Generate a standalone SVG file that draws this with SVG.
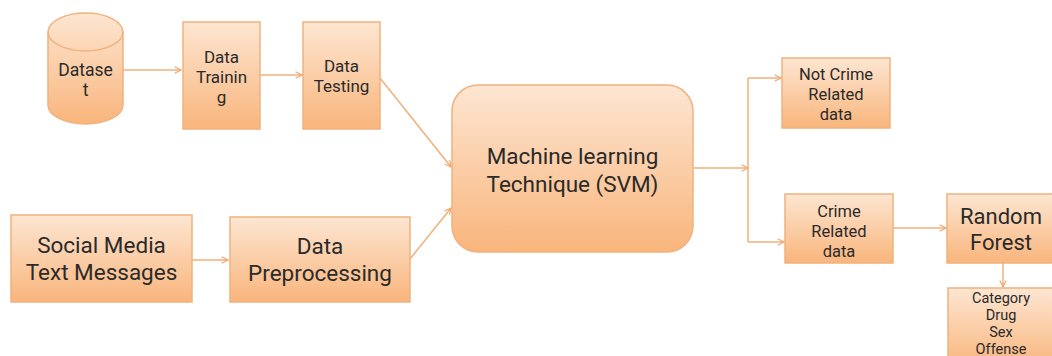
<svg xmlns="http://www.w3.org/2000/svg" width="1052" height="356" viewBox="0 0 1052 356">
<defs>
<linearGradient id="g" x1="0" y1="0" x2="0" y2="1">
<stop offset="0" stop-color="#fde6d2"/>
<stop offset="1" stop-color="#f9b57c"/>
</linearGradient>
<marker id="a" viewBox="0 0 10 10" refX="9" refY="5" markerWidth="8" markerHeight="8" orient="auto" markerUnits="userSpaceOnUse">
<path d="M1,1 L9,5 L1,9" fill="none" stroke="#efa871" stroke-width="1.5"/>
</marker>
</defs>
<style>
.n{fill:url(#g);stroke:#f0b27e;stroke-width:1.5}
.t{font-family:Roboto,"Liberation Sans",sans-serif;fill:#2a2a2a;text-anchor:middle}
.c{fill:none;stroke:#f0b07c;stroke-width:1.5}
</style>
<rect width="1052" height="356" fill="#fff"/>
<g id="connectors">
<line class="c" x1="123" y1="70" x2="181" y2="70" marker-end="url(#a)"/>
<line class="c" x1="260" y1="75" x2="302" y2="75" marker-end="url(#a)"/>
<line class="c" x1="380" y1="78" x2="451" y2="167" marker-end="url(#a)"/>
<line class="c" x1="192" y1="260" x2="228" y2="260" marker-end="url(#a)"/>
<line class="c" x1="410" y1="259" x2="451" y2="208" marker-end="url(#a)"/>
<line class="c" x1="693" y1="168" x2="748" y2="168" marker-end="url(#a)"/>
<line class="c" x1="748" y1="78" x2="748" y2="242"/>
<line class="c" x1="748" y1="78" x2="781" y2="78" marker-end="url(#a)"/>
<line class="c" x1="748" y1="242" x2="784" y2="242" marker-end="url(#a)"/>
<line class="c" x1="893" y1="228" x2="946" y2="228" marker-end="url(#a)"/>
<line class="c" x1="1003" y1="263" x2="1003" y2="287" marker-end="url(#a)"/>
</g>
<g id="dataset">
<path class="n" d="M48,32 A37.5,19 0 0 1 123,32 L123,105 A37.5,19 0 0 1 48,105 Z"/>
<path d="M48,32 A37.5,19 0 0 0 123,32" fill="none" stroke="#f0b27e" stroke-width="1.5"/>
<text class="t" x="85.5" y="76" font-size="17.5">Datase</text>
<text class="t" x="85.5" y="96" font-size="17.5">t</text>
</g>
<g id="training">
<rect class="n" x="183" y="22" width="77" height="107"/>
<text class="t" x="221.5" y="63" font-size="17">Data</text>
<text class="t" x="221.5" y="83" font-size="17">Trainin</text>
<text class="t" x="221.5" y="103" font-size="17">g</text>
</g>
<g id="testing">
<rect class="n" x="303" y="22" width="77" height="107"/>
<text class="t" x="341.5" y="72" font-size="17">Data</text>
<text class="t" x="341.5" y="92" font-size="17">Testing</text>
</g>
<g id="social">
<rect class="n" x="11" y="215" width="181" height="87"/>
<text class="t" x="101.5" y="253" font-size="22.5">Social Media</text>
<text class="t" x="101.5" y="280" font-size="22.5">Text Messages</text>
</g>
<g id="preprocessing">
<rect class="n" x="230" y="217" width="180" height="85"/>
<text class="t" x="320" y="254" font-size="22.5">Data</text>
<text class="t" x="320" y="281" font-size="22.5">Preprocessing</text>
</g>
<g id="svm">
<rect class="n" x="452" y="85" width="241" height="167" rx="26"/>
<text class="t" x="572.5" y="164" font-size="22.5">Machine learning</text>
<text class="t" x="572.5" y="192" font-size="22.5">Technique (SVM)</text>
</g>
<g id="notcrime">
<rect class="n" x="782" y="58" width="108" height="70"/>
<text class="t" x="836" y="80" font-size="16.5">Not Crime</text>
<text class="t" x="836" y="100" font-size="16.5">Related</text>
<text class="t" x="836" y="120" font-size="16.5">data</text>
</g>
<g id="crime">
<rect class="n" x="785" y="194" width="108" height="69"/>
<text class="t" x="839" y="217" font-size="16.5">Crime</text>
<text class="t" x="839" y="237" font-size="16.5">Related</text>
<text class="t" x="839" y="257" font-size="16.5">data</text>
</g>
<g id="randomforest">
<rect class="n" x="947" y="194" width="106" height="69"/>
<text class="t" x="1001" y="224" font-size="22">Random</text>
<text class="t" x="1001" y="250" font-size="22">Forest</text>
</g>
<g id="category">
<rect class="n" x="948" y="288" width="105" height="80"/>
<text class="t" x="1001" y="303" font-size="14.5">Category</text>
<text class="t" x="1001" y="320" font-size="14.5">Drug</text>
<text class="t" x="1001" y="337" font-size="14.5">Sex</text>
<text class="t" x="1001" y="354" font-size="14.5">Offense</text>
</g>
</svg>
